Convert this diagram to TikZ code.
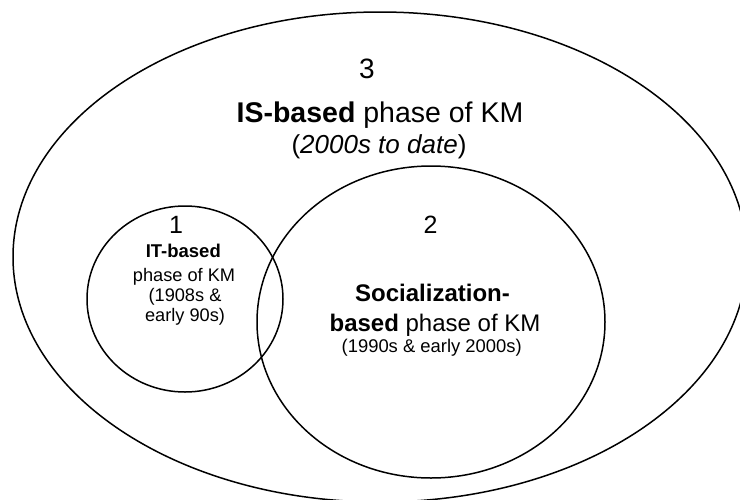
\documentclass[tikz,border=0pt]{standalone}
\usepackage{fontspec}
\setmainfont{Liberation Sans}
\newcommand\fsz[1]{\fontsize{#1}{#1}\selectfont}
\tikzset{
  ring/.style={draw=black, line width=1.5pt},
  lbl/.style={anchor=base, inner sep=0pt, text=black},
}
\begin{document}
\begin{tikzpicture}[x=1pt, y=-1pt]
\useasboundingbox (0,0) rectangle (740,499);
\clip (0,0) rectangle (740,499);
% ellipses
\coordinate (c3) at (380,257);
\coordinate (c1) at (185,299);
\coordinate (c2) at (431,322);
\draw[ring] (c3) ellipse [x radius=367, y radius=245];
\draw[ring] (c1) ellipse [x radius=98, y radius=93];
\draw[ring] (c2) ellipse [x radius=174, y radius=156];
% outer labels
\node[lbl, font=\fsz{28}] (n3) at (367,78) {3};
\node[lbl, font=\fsz{28.5}] (t3a) at (380,122) {\textbf{IS-based} phase of KM};
\node[lbl, font=\fsz{26}] (t3b) at (379,153) {(\textit{2000s to date})};
% circle 2 labels
\node[lbl, font=\fsz{25}] (n2) at (430.5,233) {2};
\node[lbl, font=\fsz{24}] (t2a) at (432.5,301.7) {\textbf{Socialization-}};
\node[lbl, font=\fsz{24}] (t2b) at (435,331.7) {\textbf{based} phase of KM};
\node[lbl, font=\fsz{18.4}] (t2c) at (431.7,352.7) {(1990s \& early 2000s)};
% circle 1 labels
\node[lbl, font=\fsz{25}] (n1) at (176,233) {1};
\node[lbl, font=\fsz{18.5}] (t1a) at (183.3,257) {\textbf{IT-based}};
\node[lbl, font=\fsz{18.2}] (t1b) at (184,281) {phase of KM};
\node[lbl, font=\fsz{18.2}] (t1c) at (185,301.5) {(1908s \&};
\node[lbl, font=\fsz{18.2}] (t1d) at (185,321.5) {early 90s)};
\end{tikzpicture}
\end{document}
